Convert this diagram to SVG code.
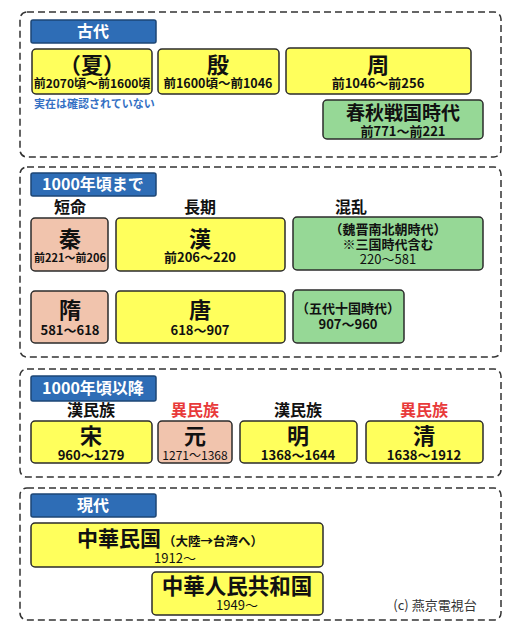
<svg xmlns="http://www.w3.org/2000/svg" width="519" height="625" viewBox="0 0 519 625">
<style>
text{font-family:"Noto Sans CJK JP","Noto Sans",sans-serif;font-weight:bold;fill:#111;text-anchor:middle}
.sec{fill:#fff;stroke:#333;stroke-width:1.5;stroke-dasharray:7 4}
.hd{fill:#2e6db6;stroke:#1d4675;stroke-width:1.5}
.hdt{fill:#fff;font-size:16px}
.y{fill:#ffff5c;stroke:#2b2b2b;stroke-width:1.5}
.g{fill:#96d896;stroke:#2b2b2b;stroke-width:1.5}
.p{fill:#f1c4ad;stroke:#2b2b2b;stroke-width:1.5}
.big{font-size:22px}
.sm{font-size:13px}
.xs{font-size:11px}
.lab{font-size:16px}
.red{fill:#e83a3a}
.n{font-weight:normal}
</style>
<rect width="519" height="625" fill="#fff"/>
<g id="sec1">
<rect class="sec" x="20" y="12" width="481" height="145" rx="7"/>
<rect class="hd" x="31" y="20" width="125" height="23" rx="2"/>
<text class="hdt" x="93" y="37">古代</text>
</g>
<g id="xia">
<rect class="y" x="32" y="49" width="120" height="45" rx="4"/>
<text class="big" x="92" y="73">（夏）</text>
<text x="92" y="88" style="font-size:12px">前2070頃～前1600頃</text>
<text x="34" y="108" style="font-size:11px;fill:#3470c4;text-anchor:start">実在は確認されていない</text>
</g>
<g id="yin">
<rect class="y" x="158" y="49" width="121" height="45" rx="4"/>
<text class="big" x="218" y="73">殷</text>
<text x="218" y="88" style="font-size:12.5px">前1600頃～前1046</text>
</g>
<g id="zhou">
<rect class="y" x="286" y="48" width="185" height="46" rx="4"/>
<text class="big" x="378" y="73">周</text>
<text class="sm" x="378" y="88">前1046～前256</text>
</g>
<g id="chunqiu">
<rect class="g" x="323" y="100" width="160" height="39" rx="4"/>
<text x="403" y="120" style="font-size:19px">春秋戦国時代</text>
<text class="sm" x="403" y="136">前771～前221</text>
</g>

<g id="sec2">
<rect class="sec" x="20" y="167" width="481" height="190" rx="7"/>
<rect class="hd" x="31" y="173" width="125" height="23" rx="2"/>
<text class="hdt" x="93" y="190">1000年頃まで</text>
<text class="lab" x="70" y="213">短命</text>
<text class="lab" x="200" y="213">長期</text>
<text class="lab" x="351" y="213">混乱</text>
</g>
<g id="qin">
<rect class="p" x="31" y="218" width="77" height="53" rx="4"/>
<text class="big" x="70" y="247">秦</text>
<text class="xs" x="70" y="262">前221～前206</text>
</g>
<g id="han">
<rect class="y" x="116" y="218" width="169" height="53" rx="4"/>
<text class="big" x="200" y="247">漢</text>
<text class="sm" x="200" y="262">前206～220</text>
</g>
<g id="weijin">
<rect class="g" x="293" y="217" width="190" height="53" rx="4"/>
<text x="388" y="234" style="font-size:13px">（魏晋南北朝時代）</text>
<text x="388" y="249" style="font-size:13px">※三国時代含む</text>
<text class="sm n" x="388" y="264">220～581</text>
</g>
<g id="sui">
<rect class="p" x="31" y="291" width="77" height="52" rx="4"/>
<text class="big" x="70" y="318">隋</text>
<text class="sm" x="70" y="335">581～618</text>
</g>
<g id="tang">
<rect class="y" x="116" y="291" width="169" height="52" rx="4"/>
<text class="big" x="200" y="318">唐</text>
<text class="sm" x="200" y="335">618～907</text>
</g>
<g id="wudai">
<rect class="g" x="293" y="290" width="111" height="53" rx="4"/>
<text x="348" y="313" style="font-size:13px">（五代十国時代）</text>
<text class="sm" x="348" y="329">907～960</text>
</g>

<g id="sec3">
<rect class="sec" x="20" y="369" width="481" height="108" rx="7"/>
<rect class="hd" x="31" y="376" width="125" height="25" rx="2"/>
<text class="hdt" x="93" y="394">1000年頃以降</text>
<text class="lab" x="91" y="416">漢民族</text>
<text class="lab red" x="195" y="416">異民族</text>
<text class="lab" x="298" y="416">漢民族</text>
<text class="lab red" x="424" y="416">異民族</text>
</g>
<g id="song">
<rect class="y" x="31" y="421" width="121" height="42" rx="4"/>
<text class="big" x="91" y="444">宋</text>
<text class="sm" x="91" y="460">960～1279</text>
</g>
<g id="yuan">
<rect class="p" x="158" y="421" width="74" height="42" rx="4"/>
<text class="big" x="195" y="444">元</text>
<text class="n" x="195" y="460" style="font-size:12px">1271～1368</text>
</g>
<g id="ming">
<rect class="y" x="240" y="421" width="117" height="42" rx="4"/>
<text class="big" x="298" y="444">明</text>
<text class="sm" x="298" y="460">1368～1644</text>
</g>
<g id="qing">
<rect class="y" x="366" y="421" width="117" height="42" rx="4"/>
<text class="big" x="424" y="444">清</text>
<text class="sm" x="424" y="460">1638～1912</text>
</g>

<g id="sec4">
<rect class="sec" x="20" y="488" width="481" height="132" rx="7"/>
<rect class="hd" x="31" y="494" width="125" height="23" rx="2"/>
<text class="hdt" x="93" y="511">現代</text>
</g>
<g id="roc">
<rect class="y" x="31" y="523" width="292" height="44" rx="4"/>
<text x="77" y="546" style="font-size:21px;text-anchor:start">中華民国<tspan style="font-size:12.5px" dx="2">（大陸→台湾へ）</tspan></text>
<text class="sm n" x="175" y="563">1912～</text>
</g>
<g id="prc">
<rect class="y" x="152" y="572" width="171" height="43" rx="4"/>
<text x="237" y="594" style="font-size:21.5px">中華人民共和国</text>
<text class="sm n" x="237" y="610">1949～</text>
</g>
<text x="435" y="610" style="font-size:13px;font-weight:normal;fill:#333">(c) 燕京電視台</text>
<g id="connectors"/>
</svg>
